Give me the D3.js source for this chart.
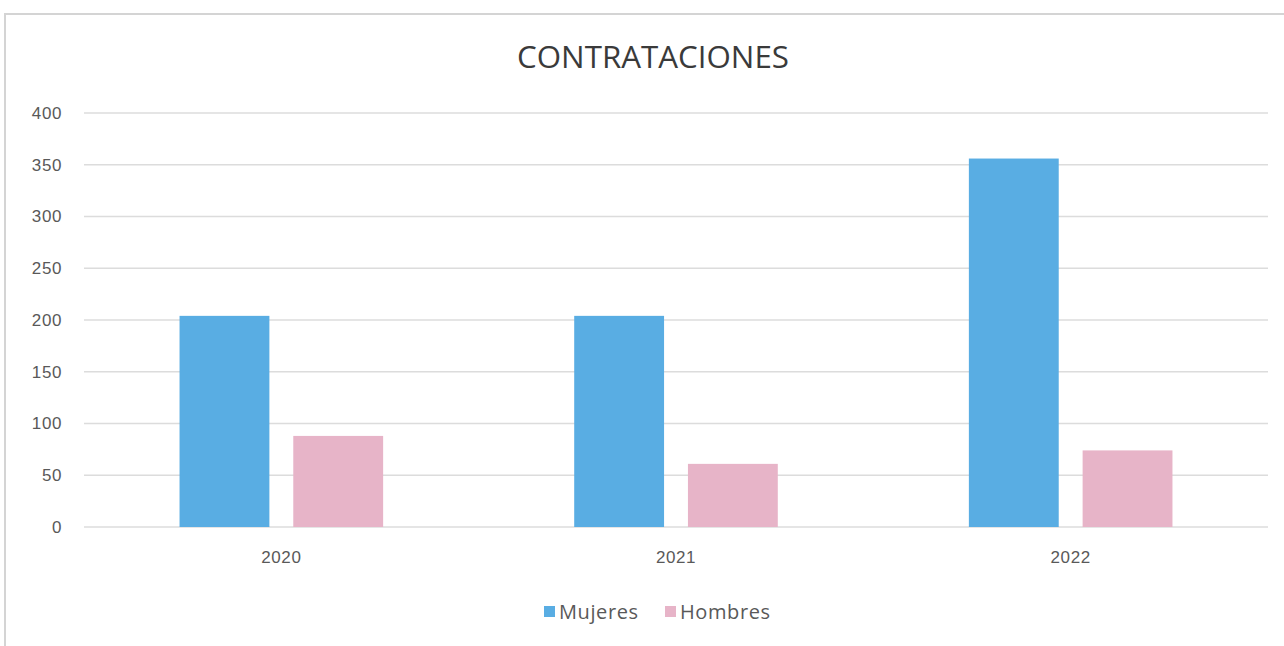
<!DOCTYPE html>
<meta charset="utf-8">
<style>
  body { margin: 0; background: #fff; }
  svg { font-family: "Open Sans", "DejaVu Sans", sans-serif; }
  .grid line { stroke: #dcdcdc; stroke-width: 1.5px; }
  .axis text { fill: #595959; font-size: 17px; letter-spacing: 0.6px; }
</style>
<svg width="1284" height="646"></svg>
<script src="https://d3js.org/d3.v7.min.js"></script>
<script>

// data
var years = ["2020", "2021", "2022"];
var series = ["Mujeres", "Hombres"];
var mujeres = [204, 204, 356];
var hombres = [88, 61, 74];
var yTicks = [0, 50, 100, 150, 200, 250, 300, 350, 400];

var colors = { Mujeres: "#59ade3", Hombres: "#e7b4c8" };

var svg = d3.select("svg"),
    margin = {top: 113, right: 16, bottom: 119, left: 84},
    width = +svg.attr("width") - margin.left - margin.right,
    height = +svg.attr("height") - margin.top - margin.bottom;

// chart frame (scanned, only top and left edges show)
svg.append("rect")
    .attr("x", 5).attr("y", 14)
    .attr("width", 1300).attr("height", 700)
    .attr("fill", "none")
    .attr("stroke", "#d4d4d4")
    .attr("stroke-width", 2);

svg.append("text")
    .attr("x", 653).attr("y", 68)
    .attr("text-anchor", "middle")
    .attr("font-size", 31)
    .attr("textLength", 272)
    .attr("lengthAdjust", "spacingAndGlyphs")
    .attr("fill", "#3a3a3a")
    .text("CONTRATACIONES");

var x = d3.scaleBand().domain(years).range([0, width]);
var x1 = d3.scaleBand().domain(series).range([0, x.bandwidth()])
    .paddingInner(0.21).paddingOuter(0.84);
var y = d3.scaleLinear().domain([0, 400]).range([height, 0]);

var g = svg.append("g")
    .attr("transform", "translate(" + margin.left + "," + margin.top + ")");

g.append("g")
    .attr("class", "grid")
    .selectAll("line")
    .data(yTicks)
    .enter().append("line")
    .attr("x1", 0).attr("x2", width)
    .attr("y1", function(d) { return y(d); })
    .attr("y2", function(d) { return y(d); });

var yAxis = g.append("g")
    .attr("class", "axis")
    .call(d3.axisLeft(y).tickValues(yTicks).tickSize(0).tickPadding(22));
yAxis.select(".domain").remove();

var xAxis = g.append("g")
    .attr("class", "axis")
    .attr("transform", "translate(0," + height + ")")
    .call(d3.axisBottom(x).tickSize(0).tickPadding(24));
xAxis.select(".domain").remove();

var rows = years.map(function(yr, i) {
  return { year: yr, values: [
    { key: "Mujeres", value: mujeres[i] },
    { key: "Hombres", value: hombres[i] }
  ]};
});

g.selectAll(".year")
    .data(rows)
    .enter().append("g")
    .attr("class", "year")
    .attr("transform", function(d) { return "translate(" + x(d.year) + ",0)"; })
  .selectAll("rect")
    .data(function(d) { return d.values; })
    .enter().append("rect")
    .attr("x", function(d) { return x1(d.key); })
    .attr("width", x1.bandwidth())
    .attr("y", function(d) { return y(d.value); })
    .attr("height", function(d) { return height - y(d.value); })
    .attr("fill", function(d) { return colors[d.key]; });

// legend
var legend = svg.append("g").attr("transform", "translate(544,612)");
var items = [{ key: "Mujeres", x: 0 }, { key: "Hombres", x: 121 }];
var li = legend.selectAll("g").data(items).enter().append("g")
    .attr("transform", function(d) { return "translate(" + d.x + ",0)"; });
li.append("rect")
    .attr("x", 0).attr("y", -6)
    .attr("width", 11).attr("height", 11)
    .attr("fill", function(d) { return colors[d.key]; });
li.append("text")
    .attr("x", 15).attr("y", 0)
    .attr("dy", "0.35em")
    .attr("font-size", 20)
    .attr("letter-spacing", 0.6)
    .attr("fill", "#595959")
    .text(function(d) { return d.key; });

</script>
